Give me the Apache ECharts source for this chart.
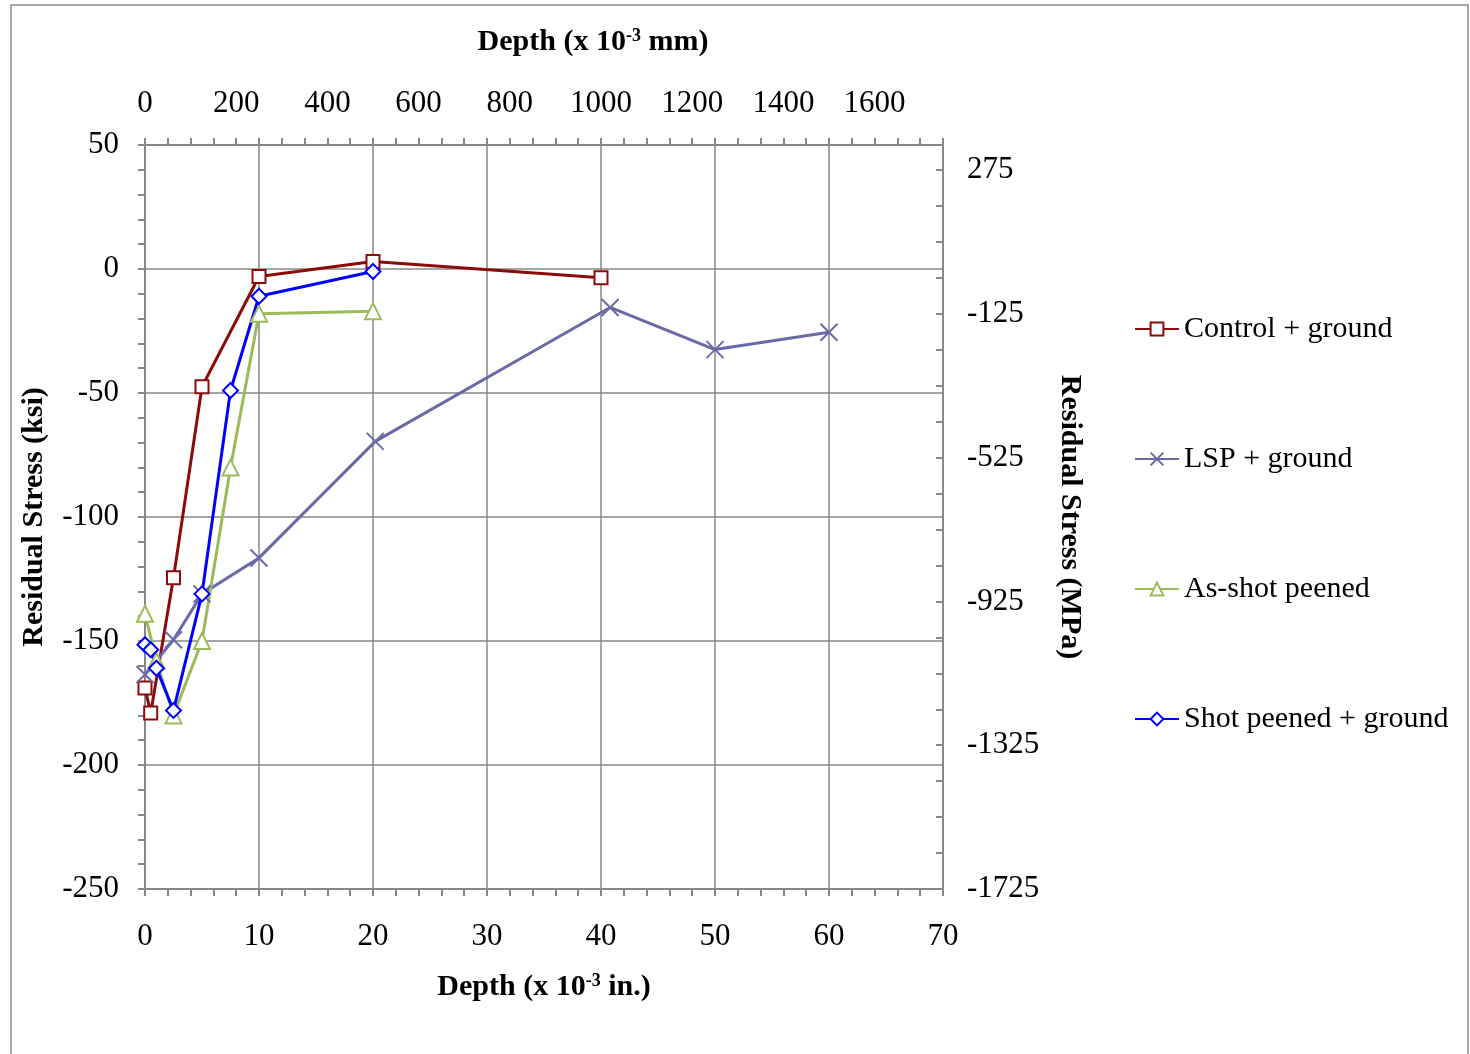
<!DOCTYPE html>
<html>
<head>
<meta charset="utf-8">
<script src="https://cdn.jsdelivr.net/npm/echarts@6/dist/echarts.min.js"></script>
<style>
html,body{margin:0;padding:0;background:#fff;}
#c{width:1470px;height:1054px;}
</style>
</head>
<body>
<div id="c"></div>
<script>
// ---- data (depth in 10^-3 in., stress in ksi) ----
const seriesNames = ['Control + ground', 'LSP + ground', 'As-shot peened', 'Shot peened + ground'];
const controlX = [0, 0.5, 2.5, 5, 10, 20, 40];
const controlY = [-169, -179, -124.5, -47.5, -3, 3, -3.5];
const lspX = [0, 2.5, 5, 10, 20.2, 40.8, 50, 60];
const lspY = [-163.5, -149.5, -131, -116.5, -69.5, -15.5, -32.5, -25.5];
const asShotX = [0, 1, 2.5, 5, 7.5, 10, 20];
const asShotY = [-139, -158, -180, -150, -80, -18, -17];
const shotX = [0, 0.5, 1, 2.5, 5, 7.5, 10, 20];
const shotY = [-151.5, -153.5, -161, -178, -131, -49, -11, -1];
const colors = ['#8B0A0A', '#6A6AA6', '#9BBB59', '#0000FF'];

function pairs(xs, ys) { return xs.map((x, i) => [x, ys[i]]); }

const FONT = '"Liberation Serif", "Times New Roman", serif';
const GRID = '#878787';
const chart = echarts.init(document.getElementById('c'));

const axisLine = { onZero: false, lineStyle: { color: GRID, width: 2 } };
const labelBase = { color: '#000', fontFamily: FONT, fontSize: 31 };
function nameStyle(extra) {
  return Object.assign({ color: '#000', fontFamily: FONT, fontSize: 30, fontWeight: 'bold',
    rich: { sup: { fontFamily: FONT, fontSize: 18, fontWeight: 'bold', verticalAlign: 'top', color: '#000' },
            n: { fontFamily: FONT, fontSize: 30, fontWeight: 'bold', color: '#000' } } }, extra || {});
}

const xMark = 'path://M0,0L10,10M10,0L0,10';

chart.setOption({
  animation: false,
  backgroundColor: '#fff',
  graphic: [{
    type: 'rect', shape: { x: 11, y: 5, width: 1457, height: 1070 },
    style: { fill: 'none', stroke: '#8c8c8c', lineWidth: 1.5 }, silent: true, z: -10
  }],
  grid: { left: 145, right: 527, top: 145, bottom: 165, containLabel: false },
  legend: {
    orient: 'vertical', left: 1134, top: 314, itemGap: 100, padding: 0,
    itemWidth: 44, itemHeight: 16,
    textStyle: { color: '#000', fontFamily: FONT, fontSize: 30 },
    data: seriesNames
  },
  xAxis: [{
    type: 'value', position: 'bottom', min: 0, max: 70, interval: 10,
    axisLine: axisLine,
    axisTick: { show: true, length: 7, lineStyle: { color: GRID, width: 2 } },
    minorTick: { show: true, splitNumber: 5, length: 7, lineStyle: { color: GRID, width: 2 } },
    splitLine: { show: true, lineStyle: { color: GRID, width: 1.5 } },
    axisLabel: Object.assign({ margin: 32 }, labelBase),
    name: '{n|Depth (x 10}{sup|-3}{n| in.)}', nameLocation: 'middle', nameGap: 83,
    nameTextStyle: nameStyle()
  }, {
    type: 'value', position: 'top', min: 0, max: 1750, interval: 200,
    axisLine: axisLine,
    axisTick: { show: true, length: 7, lineStyle: { color: GRID, width: 2 } },
    minorTick: { show: true, splitNumber: 4, length: 7, lineStyle: { color: GRID, width: 2 } },
    splitLine: { show: false },
    axisLabel: Object.assign({ margin: 26, showMaxLabel: false, formatter: v => String(v) }, labelBase),
    name: '{n|Depth (x 10}{sup|-3}{n| mm)}', nameLocation: 'middle', nameGap: 88,
    nameTextStyle: nameStyle({ padding: [0, 0, 0, 98] })
  }],
  yAxis: [{
    type: 'value', position: 'left', min: -250, max: 50, interval: 50,
    axisLine: axisLine,
    axisTick: { show: true, length: 7, lineStyle: { color: GRID, width: 2 } },
    minorTick: { show: true, splitNumber: 5, length: 7, lineStyle: { color: GRID, width: 2 } },
    splitLine: { show: true, lineStyle: { color: GRID, width: 1.5 } },
    axisLabel: Object.assign({ margin: 26 }, labelBase),
    name: 'Residual Stress (ksi)', nameLocation: 'middle', nameGap: 96,
    nameTextStyle: { color: '#000', fontFamily: FONT, fontSize: 30, fontWeight: 'bold' }
  }, {
    type: 'value', position: 'right', min: -1725, max: 345, interval: 400,
    axisLine: axisLine,
    axisTick: { show: true, inside: true, length: 7, lineStyle: { color: GRID, width: 2 } },
    minorTick: { show: true, splitNumber: 4, length: 7, lineStyle: { color: GRID, width: 2 } },
    splitLine: { show: false },
    axisLabel: Object.assign({ margin: 24, showMaxLabel: false, formatter: v => String(v) }, labelBase),
    name: 'Residual Stress (MPa)', nameLocation: 'middle', nameGap: 112, nameRotate: -90,
    nameTextStyle: { color: '#000', fontFamily: FONT, fontSize: 30, fontWeight: 'bold' }
  }],
  series: [{
    name: seriesNames[0], type: 'line', xAxisIndex: 0, yAxisIndex: 0,
    data: pairs(controlX, controlY), color: colors[0],
    symbol: 'rect', symbolSize: 13,
    itemStyle: { color: '#fff', borderColor: colors[0], borderWidth: 2 },
    lineStyle: { color: colors[0], width: 3 }
  }, {
    name: seriesNames[1], type: 'line', xAxisIndex: 0, yAxisIndex: 0,
    data: pairs(lspX, lspY), color: colors[1],
    symbol: xMark, symbolSize: 17,
    itemStyle: { color: 'rgba(0,0,0,0)', borderColor: colors[1], borderWidth: 2 },
    lineStyle: { color: colors[1], width: 3 }
  }, {
    name: seriesNames[2], type: 'line', xAxisIndex: 0, yAxisIndex: 0,
    data: pairs(asShotX, asShotY), color: colors[2],
    symbol: 'triangle', symbolSize: 16,
    itemStyle: { color: '#fff', borderColor: colors[2], borderWidth: 2 },
    lineStyle: { color: colors[2], width: 3 }
  }, {
    name: seriesNames[3], type: 'line', xAxisIndex: 0, yAxisIndex: 0,
    data: pairs(shotX, shotY), color: colors[3],
    symbol: 'diamond', symbolSize: 15,
    itemStyle: { color: '#fff', borderColor: colors[3], borderWidth: 2 },
    lineStyle: { color: colors[3], width: 3 }
  }]
});
</script>
</body>
</html>
